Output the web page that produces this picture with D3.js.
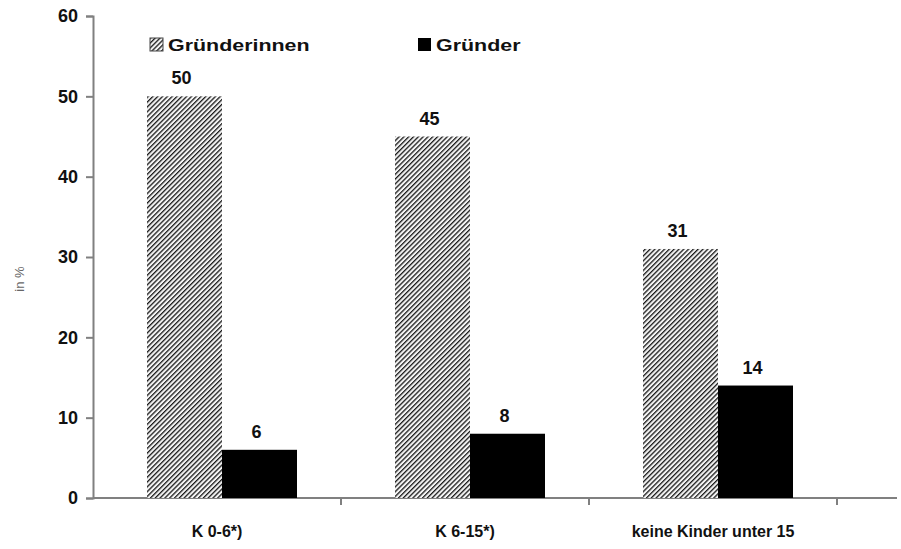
<!DOCTYPE html>
<html>
<head>
<meta charset="utf-8">
<script src="https://cdn.jsdelivr.net/npm/d3@7"></script>
<style>
  body { margin: 0; background: #fff; }
  svg text { font-family: "Liberation Sans", Arial, sans-serif; }
</style>
</head>
<body>
<svg id="chart"></svg>
<script>
// chart values
const categories = ["K 0-6*)", "K 6-15*)", "keine Kinder unter 15"];
const seriesNames = ["Gründerinnen", "Gründer"];
const gruenderinnen = [50, 45, 31];
const gruender = [6, 8, 14];
const yTicks = [0, 10, 20, 30, 40, 50, 60];

const W = 901, H = 549;
const margin = {left: 93, right: 64, top: 16, bottom: 51};
const width = W - margin.left - margin.right;
const height = H - margin.top - margin.bottom;

const svg = d3.select("#chart").attr("width", W).attr("height", H);

// dense diagonal hatch for the women's bars
const defs = svg.append("defs");
const pat = defs.append("pattern")
    .attr("id", "hatch")
    .attr("patternUnits", "userSpaceOnUse")
    .attr("width", 3.4).attr("height", 3.4)
    .attr("patternTransform", "rotate(45)");
pat.append("rect").attr("width", 3.4).attr("height", 3.4).attr("fill", "#f4f4f4");
pat.append("line")
    .attr("x1", 0).attr("y1", 0).attr("x2", 0).attr("y2", 3.4)
    .attr("stroke", "#1a1a1a").attr("stroke-width", 2.6);

const g = svg.append("g").attr("transform", "translate(" + margin.left + "," + margin.top + ")");

const x0 = d3.scaleBand().domain(categories).range([0, 744]);
const x1 = d3.scaleBand().domain(seriesNames).range([54, 204]);
const y = d3.scaleLinear().domain([0, 60]).range([height, 0]);

// y axis
const yAxis = g.append("g")
    .call(d3.axisLeft(y).tickValues(yTicks).tickSize(7).tickPadding(8));
yAxis.select(".domain").attr("stroke", "#808080").attr("stroke-width", 2);
yAxis.selectAll(".tick line").attr("stroke", "#808080").attr("stroke-width", 2);
yAxis.selectAll("text").attr("font-size", 18).attr("font-weight", "bold").attr("fill", "#111");

// x axis baseline with category separators
g.append("line")
    .attr("x1", 0).attr("x2", width + 60)
    .attr("y1", height).attr("y2", height)
    .attr("stroke", "#808080").attr("stroke-width", 2);
g.selectAll(".xtick")
    .data(categories.map(c => x0(c) + x0.bandwidth()))
    .join("line")
    .attr("x1", d => d).attr("x2", d => d)
    .attr("y1", height).attr("y2", height + 7)
    .attr("stroke", "#808080").attr("stroke-width", 2);
g.selectAll(".xlab")
    .data(categories)
    .join("text")
    .attr("x", d => x0(d) + x0.bandwidth() / 2)
    .attr("y", height + 39)
    .attr("text-anchor", "middle")
    .attr("font-size", 16).attr("font-weight", "bold").attr("fill", "#111")
    .text(d => d);

// bars
const rows = categories.map((c, i) => ({cat: c, vals: [gruenderinnen[i], gruender[i]]}));
const grp = g.selectAll(".grp").data(rows).join("g")
    .attr("transform", d => "translate(" + x0(d.cat) + ",0)");
grp.selectAll("rect")
    .data(d => d.vals.map((v, j) => ({name: seriesNames[j], v: v})))
    .join("rect")
    .attr("x", d => x1(d.name))
    .attr("width", x1.bandwidth())
    .attr("y", d => y(d.v))
    .attr("height", d => height - y(d.v))
    .attr("fill", d => d.name === "Gründer" ? "#000" : "url(#hatch)");
grp.selectAll("text")
    .data(d => d.vals.map((v, j) => ({name: seriesNames[j], v: v})))
    .join("text")
    .attr("x", d => x1(d.name) + x1.bandwidth() / 2 - 3)
    .attr("y", d => y(d.v) - 12)
    .attr("text-anchor", "middle")
    .attr("font-size", 18).attr("font-weight", "bold").attr("fill", "#111")
    .text(d => d.v);

// y title
svg.append("text")
    .attr("transform", "translate(24,279) rotate(-90)")
    .attr("text-anchor", "middle")
    .attr("font-size", 13).attr("fill", "#666")
    .text("in %");

// legend, text drawn slightly wide like the original
const legend = svg.append("g");
const legX = [150, 418];
seriesNames.forEach((s, i) => {
  legend.append("rect")
      .attr("x", legX[i]).attr("y", 38)
      .attr("width", 13).attr("height", 13)
      .attr("fill", i === 0 ? "url(#hatch)" : "#000")
      .attr("stroke", i === 0 ? "#444" : "none");
  legend.append("text")
      .attr("transform", "translate(" + (legX[i] + 18) + ",51) scale(1.26,1)")
      .attr("font-size", 17).attr("font-weight", "bold").attr("fill", "#111")
      .text(s);
});
</script>
</body>
</html>
